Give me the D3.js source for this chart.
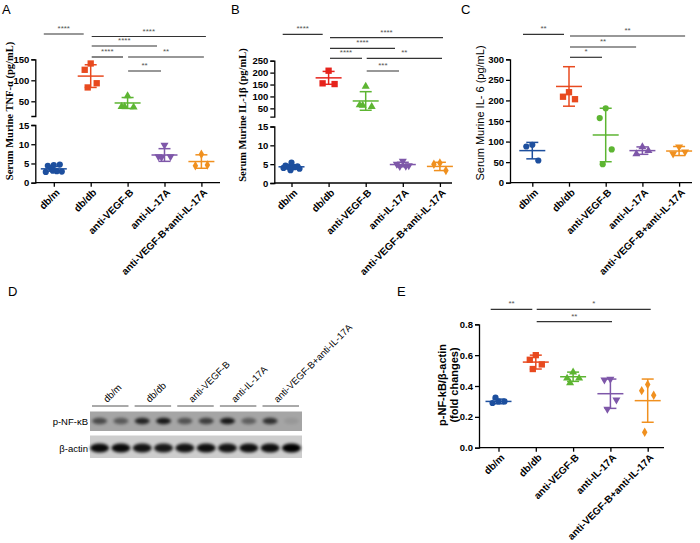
<!DOCTYPE html>
<html><head><meta charset="utf-8">
<script src="https://cdn.jsdelivr.net/npm/d3@7"></script>
<style>body{margin:0;background:#fff}svg{display:block}</style>
</head><body>
<svg id="c" width="700" height="543"></svg>
<script>
// ---------------- DATA ----------------
const categories = ["db/m","db/db","anti-VEGF-B","anti-IL-17A","anti-VEGF-B+anti-IL-17A"];

// A: TNF-α (pg/mL)
const tnfPoints = [[4.6,4.4,4.7,3.8,3.0,2.8,2.9,3.1],[140,125,93,83],[63,37,36,37],[9.8,6.8,6.8,6.6],[7.4,4.4,4.6]];
const tnfMean = [3.6,110,46,7.2,5.5];
const tnfSD = [0.6,27,13,1.65,1.75];
const tnfUpperTicks = [50,100,150];
const tnfLowerTicks = [0,5,10,15];
const tnfSig = [[0,1,"****"],[1,4,"****"],[1,3,"****"],[1,2,"****"],[2,4,"**"],[2,3,"**"]];

// B: IL-1β (pg/mL)
const il1Points = [[5.4,4.6,4.4,4.3,4.2,4.0,3.8,3.4],[208,155,152],[142,64,57,62],[5.8,5.0,4.6,4.4,4.5],[5.3,5.0,3.3]];
const il1Mean = [4.3,178,81,4.9,4.4];
const il1SD = [0.55,27,39,0.6,1.1];
const il1UpperTicks = [50,100,150,200,250];
const il1LowerTicks = [0,5,10,15];
const il1Sig = [[0,1,"****"],[1,4,"****"],[1,3,"****"],[1,2,"****"],[2,4,"**"],[2,3,"***"]];

// C: IL-6 (pg/mL)
const il6Points = [[92,88,54],[220,209,203],[181,157,81,45],[87,70,78],[87,70,75]];
const il6Mean = [78,234,116,78,77];
const il6SD = [20,48,65,9,11];
const il6Ticks = [0,50,100,150,200,250,300];
const il6Sig = [[0,1,"**"],[1,4,"**"],[1,3,"**"],[1,2,"*"]];

// D: western blot band intensities (2 lanes per group)
const blotRows = ["p-NF-κB","β-actin"];
const pnfkbBands = [0.55,0.45,0.78,0.85,0.5,0.62,0.85,0.42,0.7,0.08];
const actinBands = [0.95,0.95,0.9,0.88,0.9,0.93,0.9,0.93,0.93,1.0];

// E: p-NF-kB/β-actin (fold changes)
const nfkbPoints = [[0.30,0.29,0.30,0.325],[0.60,0.57,0.54,0.51],[0.49,0.45,0.45,0.42],[0.445,0.44,0.31,0.25],[0.41,0.37,0.34,0.10]];
const nfkbMean = [0.30,0.555,0.46,0.35,0.305];
const nfkbSD = [0.015,0.045,0.03,0.095,0.14];
const nfkbTicks = [0,0.2,0.4,0.6,0.8];
const nfkbSig = [[0,1,"**"],[1,4,"*"],[1,3,"**"]];

// ---------------- STYLE ----------------
const colorsA = ["#1d4f9e","#e84a1f","#5db532","#7e57a9","#f0901f"];
const colorsB = ["#1d4f9e","#e6231c","#5db532","#7e57a9","#f0901f"];
const shapesStd = ["circle","square","triangle","triangleDown","diamond"];
const shapesC = ["circle","square","circle","triangle","triangleDown"];
const SANS = "'Liberation Sans', Arial, sans-serif";
const SERIF = "'Liberation Serif', 'Times New Roman', serif";

const svg = d3.select("#c");
svg.append("rect").attr("width",700).attr("height",543).attr("fill","#fff");

function symPath(shape){
  const t = {circle:d3.symbolCircle, square:d3.symbolSquare, triangle:d3.symbolTriangle,
             triangleDown:d3.symbolTriangle, diamond:d3.symbolDiamond}[shape];
  const size = {circle:30, square:40, triangle:28, triangleDown:28, diamond:26}[shape];
  return d3.symbol(t, size)();
}
const jitter = [0,-6,6,-3,3,-8,8,-1];

function styleAxis(g, fs){
  g.selectAll(".domain").attr("stroke","#000").attr("stroke-width",1.3);
  g.selectAll(".tick line").attr("stroke","#000").attr("stroke-width",1.3);
  g.selectAll(".tick text").attr("font-family",SANS).attr("font-weight","bold")
    .attr("font-size",fs||9.5).attr("fill","#000");
}

function drawPanel(p){
  const g = svg.append("g");
  const x = d3.scalePoint().domain(categories).range([p.x0, p.x0 + 4*p.step]);
  p.yAxes.forEach(a=>{
    const ax = g.append("g").attr("transform",`translate(${p.axisX},0)`)
      .call(d3.axisLeft(a.scale).tickValues(a.ticks).tickSize(4).tickSizeOuter(4).tickPadding(2)
        .tickFormat(a.fmt || d3.format("d")));
    styleAxis(ax, 9.5);
  });
  const xa = g.append("g").attr("transform",`translate(0,${p.baseY})`)
    .call(d3.axisBottom(x).tickSize(4).tickFormat(""));
  xa.select(".domain").remove();
  styleAxis(xa);
  g.append("line").attr("x1",p.axisX).attr("x2",p.axisEnd).attr("y1",p.baseY).attr("y2",p.baseY)
    .attr("stroke","#000").attr("stroke-width",1.3);
  categories.forEach(c=>{
    g.append("text").attr("transform",`translate(${x(c)+4},${p.baseY+8}) rotate(-45)`)
      .attr("text-anchor","end").attr("dy","0.35em")
      .attr("font-family",SANS).attr("font-weight","bold").attr("font-size",10).text(c);
  });
  categories.forEach((c,i)=>{
    const cx = x(c), col = p.colors[i];
    const m = p.mean[i], s = p.sd[i];
    const yHi = p.y(m+s), yLo = p.y(m-s), yM = p.y(m);
    p.points[i].forEach((v,k)=>{
      const sh = p.shapes[i];
      g.append("path").attr("d",symPath(sh))
        .attr("transform",`translate(${cx + jitter[k%jitter.length]},${p.y(v)})${sh==="triangleDown"?" rotate(180)":""}`)
        .attr("fill",col);
    });
    g.append("line").attr("x1",cx).attr("x2",cx).attr("y1",yHi).attr("y2",yLo).attr("stroke",col).attr("stroke-width",1.5);
    g.append("line").attr("x1",cx-6).attr("x2",cx+6).attr("y1",yHi).attr("y2",yHi).attr("stroke",col).attr("stroke-width",1.5);
    g.append("line").attr("x1",cx-6).attr("x2",cx+6).attr("y1",yLo).attr("y2",yLo).attr("stroke",col).attr("stroke-width",1.5);
    g.append("line").attr("x1",cx-13).attr("x2",cx+13).attr("y1",yM).attr("y2",yM).attr("stroke",col).attr("stroke-width",1.5);
  });
  p.sig.forEach((s,k)=>{
    const L = p.sigLayout[k];
    const x1 = x(categories[s[0]]) + L[1], x2 = x(categories[s[1]]) + L[2];
    g.append("line").attr("x1",x1).attr("x2",x2).attr("y1",L[0]).attr("y2",L[0])
      .attr("stroke","#333").attr("stroke-width",1.2);
    g.append("text").attr("x",(x1+x2)/2).attr("y",L[0]-3).attr("text-anchor","middle")
      .attr("font-family",SANS).attr("font-size",8).attr("fill","#555").text(s[2]);
  });
  p.title.forEach(t=>{
    g.append("text").attr("transform",`translate(${t.x},${t.y}) rotate(-90)`)
      .attr("text-anchor","middle").attr("font-family",t.font).attr("font-weight",t.weight)
      .attr("font-size",t.size).attr("fill","#000").text(t.text);
  });
  return g;
}

// ---- Panel A ----
const aUp = d3.scaleLinear().domain([15,150]).range([116,59.3]);
const aLow = d3.scaleLinear().domain([0,15]).range([182.7,125]);
drawPanel({
  axisX:35.3, axisEnd:220, baseY:182.7, x0:53.8, step:36.9,
  yAxes:[{scale:aUp,ticks:tnfUpperTicks},{scale:aLow,ticks:tnfLowerTicks}],
  y:v=> v>15 ? aUp(v) : aLow(v),
  points:tnfPoints, mean:tnfMean, sd:tnfSD, colors:colorsA, shapes:shapesStd, sig:tnfSig,
  sigLayout:[[34,-10,-7],[36.5,1,4.5],[46,1,-7.5],[57,1,-4.6],[57,0.5,2.5],[71,0.5,-3.5]],
  title:[{x:12.5,y:111,text:"Serum Murine TNF-α (pg/mL)",font:SERIF,weight:"bold",size:10.5}]
});

// ---- Panel B ----
const bUp = d3.scaleLinear().domain([15,250]).range([116.7,60.7]);
const bLow = d3.scaleLinear().domain([0,15]).range([183,126.5]);
drawPanel({
  axisX:274.3, axisEnd:452, baseY:183, x0:291.5, step:37.1,
  yAxes:[{scale:bUp,ticks:il1UpperTicks},{scale:bLow,ticks:il1LowerTicks}],
  y:v=> v>15 ? bUp(v) : bLow(v),
  points:il1Points, mean:il1Mean, sd:il1SD, colors:colorsB, shapes:shapesStd, sig:il1Sig,
  sigLayout:[[34.3,-8.8,-5.9],[37.7,1.4,3.1],[48.3,1.4,-7.8],[58.3,1.4,-3.7],[58.3,1,2.1],[71,1,-3.8]],
  title:[{x:246,y:115,text:"Serum Murine IL-1β (pg/mL)",font:SERIF,weight:"bold",size:10.5}]
});

// ---- Panel C ----
const cY = d3.scaleLinear().domain([0,300]).range([182.7,59.3]);
drawPanel({
  axisX:510, axisEnd:692, baseY:182.7, x0:532.3, step:36.7,
  yAxes:[{scale:cY,ticks:il6Ticks}],
  y:cY,
  points:il6Points, mean:il6Mean, sd:il6SD, colors:colorsA, shapes:shapesC, sig:il6Sig,
  sigLayout:[[34.3,-9.3,-5],[36,1,6],[47,1,-6.3],[57.3,1,-3.7]],
  title:[{x:484,y:113,text:"Serum Murine IL- 6 (pg/mL)",font:SANS,weight:"normal",size:11}]
});

// ---- Panel E ----
const eY = d3.scaleLinear().domain([0,0.8]).range([447.7,324.3]);
drawPanel({
  axisX:479, axisEnd:664, baseY:447.7, x0:498.5, step:37.3,
  yAxes:[{scale:eY,ticks:nfkbTicks,fmt:d3.format(".1f")}],
  y:eY,
  points:nfkbPoints, mean:nfkbMean, sd:nfkbSD, colors:colorsA, shapes:shapesStd, sig:nfkbSig,
  sigLayout:[[309.3,-7.8,-3.5],[309.3,0.9,3],[321.7,0.9,1.6]],
  title:[{x:446,y:385,text:"p-NF-kB/β-actin",font:SANS,weight:"bold",size:11},
         {x:458,y:385,text:"(fold changes)",font:SANS,weight:"bold",size:11}]
});

// ---- Panel D (blot) ----
const defs = svg.append("defs");
defs.append("filter").attr("id","blur").attr("x","-50%").attr("y","-100%").attr("width","200%").attr("height","300%")
  .append("feGaussianBlur").attr("stdDeviation",1.6);
const lanes = d3.scaleBand().domain(d3.range(10)).range([90,301]).paddingInner(0.1);
const gD = svg.append("g");
const rowY = d3.scalePoint().domain(blotRows).range([421,448]);
gD.append("rect").attr("x",90).attr("y",411.5).attr("width",212).attr("height",19.5).attr("fill","#a5a5a5");
gD.append("rect").attr("x",90).attr("y",435.5).attr("width",212).attr("height",22.5).attr("fill","#cdcdcd");
[[pnfkbBands,blotRows[0],7.5,3.2],[actinBands,blotRows[1],9.5,4.6]].forEach(([vals,row,rx,ry])=>{
  vals.forEach((v,i)=>{
    gD.append("ellipse").attr("cx",lanes(i)+lanes.bandwidth()/2).attr("cy",rowY(row))
      .attr("rx",rx).attr("ry",ry).attr("fill","#000").attr("opacity",v).attr("filter","url(#blur)");
  });
});
blotRows.forEach(r=>{
  gD.append("text").attr("x",88).attr("y",rowY(r)+3.5).attr("text-anchor","end")
    .attr("font-family",SANS).attr("font-size",9.5).text(r);
});
categories.forEach((c,gi)=>{
  const xa = lanes(2*gi)+2, xb = lanes(2*gi+1)+lanes.bandwidth()-2;
  gD.append("line").attr("x1",xa).attr("x2",xb).attr("y1",406).attr("y2",406).attr("stroke","#555").attr("stroke-width",1);
  gD.append("text").attr("transform",`translate(${(xa+xb)/2-3},403) rotate(-45)`)
    .attr("font-family",SANS).attr("font-size",9.5).text(c);
});

[["A",2,14],["B",231,14],["C",461,14],["D",8,296],["E",397,296]].forEach(([t,xx,yy])=>{
  svg.append("text").attr("x",xx).attr("y",yy).attr("font-family",SANS).attr("font-size",13).text(t);
});
</script>
</body></html>
